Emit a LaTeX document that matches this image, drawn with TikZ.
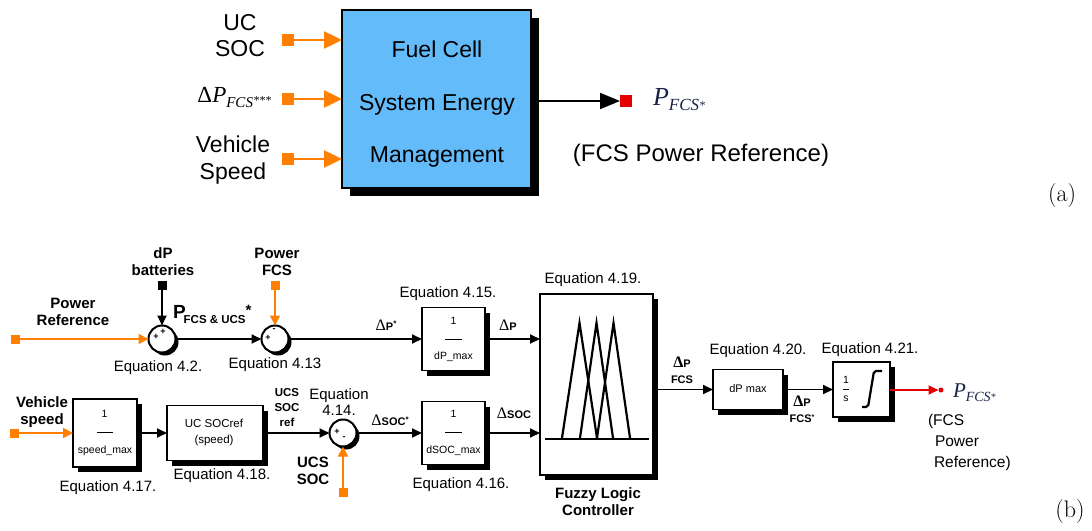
\documentclass[tikz,border=0pt]{standalone}
\usepackage{fontspec}
\newfontfamily\arial{Liberation Sans}
\newfontfamily\tnr{Liberation Serif}
\usetikzlibrary{arrows.meta,shadows}
\newcommand\myfs[2]{\fontsize{#1}{#2}\selectfont}
\newcommand\dl[1]{{\tnr\myfs{16}{16}Δ}{\arial\bfseries\myfs{11}{11}#1}}
\definecolor{ora}{RGB}{255,128,0}
\definecolor{sky}{RGB}{99,187,250}
\definecolor{navy}{RGB}{25,35,70}
\definecolor{redc}{RGB}{228,0,0}
\begin{document}
\begin{tikzpicture}[x=1pt,y=-1pt,
  every node/.style={inner sep=0pt,outer sep=0pt},
  txa/.style={font={\arial\myfs{23}{26}},align=center},
  eqn/.style={font={\arial\myfs{15}{16}},align=center},
  bl/.style={font={\arial\bfseries\myfs{15}{17}},align=center},
  sbl/.style={font={\arial\bfseries\myfs{11.5}{15}},align=center},
  smalltxt/.style={font={\arial\myfs{10.5}{16}},align=center},
  blk/.style={draw,line width=1.6pt,fill=white,drop shadow={shadow xshift=5pt,shadow yshift=-5pt,opacity=1,fill=black}},
  sumc/.style={circle,draw,line width=2pt,fill=white,minimum size=27pt,drop shadow={shadow xshift=3pt,shadow yshift=-3pt,opacity=1,fill=black}},
  osq/.style={fill=ora,minimum size=9pt},
  ksq/.style={fill=black,minimum size=9pt},
  karr/.style={line width=1.8pt,-{Triangle[length=10pt,width=9pt]}},
  oarr/.style={draw=ora,line width=1.8pt,-{Triangle[length=10pt,width=10pt]}},
  sgn/.style={font={\arial\bfseries\myfs{9}{9}}},
  mf/.style={line width=2.2pt},
]
\useasboundingbox (0,0) rectangle (1092,530);

% ---------------- (a) ----------------
\node[draw=black,line width=2pt,fill=sky,minimum width=189pt,minimum height=178pt,
  drop shadow={shadow xshift=8pt,shadow yshift=-8pt,opacity=1,fill=black}] (fcsem) at (436.5,99) {};
\node[txa,anchor=base] (fc1) at (437,57) {Fuel Cell};
\node[txa,anchor=base] (fc2) at (437,110) {System Energy};
\node[txa,anchor=base] (fc3) at (437,162) {Management};

\node[fill=ora,minimum size=12pt] (ia1) at (288,40) {};
\node[fill=ora,minimum size=12pt] (ia2) at (288,99) {};
\node[fill=ora,minimum size=12pt] (ia3) at (288,159) {};
\foreach \n in {ia1,ia2,ia3}
  \draw[draw=ora,line width=2.5pt,-{Triangle[length=18pt,width=17pt]}] (\n) -- (\n -| fcsem.west);

\node[txa] (lucs) at (240,36) {UC\\SOC};
\node[anchor=base east] (ldp) at (271,102) {{\tnr\myfs{23}{23}Δ\itshape P}\raisebox{-5pt}{\tnr\itshape\myfs{15}{15}FCS\raisebox{3pt}{\myfs{12}{12}***}}};
\node[txa,font={\arial\myfs{23}{27}}] (lvsp) at (233,160) {Vehicle\\Speed};

\node[fill=redc,minimum size=12pt] (oa) at (626,101) {};
\draw[line width=2pt,-{Triangle[length=20pt,width=16pt]}] (fcsem.east |- oa) -- (oa.west);
\node[anchor=base west,text=navy] (pfa) at (653,105) {\tnr\itshape\myfs{26}{26}P\raisebox{-5pt}{\myfs{17}{17}FCS\raisebox{1pt}{\myfs{12}{12}*}}};
\node[font={\arial\myfs{24}{26}}] (fpra) at (701,155) {(FCS Power Reference)};
\node[font=\myfs{24}{24}] (la) at (1062,196) {(a)};

% ---------------- (b) ----------------
% sums
\node[sumc] (s1) at (162,339) {};
\node[sumc] (s2) at (275,339) {};
\node[sumc] (s3) at (343,433) {};
\node[sgn] (s1a) at (156,337) {+};
\node[sgn] (s1b) at (163,332) {+};
\node[sgn] (s2a) at (268,338) {+};
\node[sgn] (s2b) at (274,330) {-};
\node[sgn] (s3a) at (337,432) {+};
\node[sgn] (s3b) at (344,438) {-};

% blocks
\node[blk,minimum width=63pt,minimum height=63pt] (dpm) at (453.5,339) {};
\node[smalltxt] (dpm1) at (453.5,321) {1};
\draw[line width=1pt] (445,339) -- (462,339);
\node[smalltxt] (dpm2t) at (453.5,357) {dP\_max};

\node[blk,minimum width=63pt,minimum height=63pt] (dsm) at (453.5,433) {};
\node[smalltxt] (dsm1) at (453.5,414) {1};
\draw[line width=1pt] (445,432) -- (462,432);
\node[smalltxt] (dsm2) at (453.5,451) {dSOC\_max};

\node[blk,minimum width=64pt,minimum height=68pt] (spm) at (105,433) {};
\node[smalltxt] (spm1) at (104.5,414) {1};
\draw[line width=1pt] (97,432) -- (113,432);
\node[smalltxt] (spm2) at (105,451) {speed\_max};

\node[blk,minimum width=96pt,minimum height=55pt] (socr) at (215,433) {};
\node[smalltxt,font={\arial\myfs{11.5}{16}}] (socrt) at (214,433) {UC SOCref\\(speed)};

\node[blk,minimum width=113pt,minimum height=181pt] (flc) at (596.5,384.5) {};
\draw[mf] (545,439) -- (649,439);
\draw[mf] (562,438) -- (579.5,323) -- (597,438);
\draw[mf] (580,438) -- (596.5,323) -- (613,438);
\draw[mf] (597,438) -- (613.5,323) -- (630,438);

\node[blk,minimum width=70pt,minimum height=40pt] (dpx) at (748,389.5) {};
\node[smalltxt,font={\arial\myfs{11}{12}}] (dpxt) at (748,389) {dP max};

\node[blk,minimum width=57pt,minimum height=55pt] (integ) at (861.5,389.5) {};
\node[smalltxt,font={\arial\myfs{10.5}{12}}] (int1) at (846,380) {1};
\draw[line width=1pt] (843,389) -- (849,389);
\node[smalltxt,font={\arial\myfs{10.5}{12}}] (int2) at (846,399) {s};
\draw[mf,rounded corners=2pt] (862,407) -- (868,407) -- (874,371) -- (882,371);

% sources
\node[osq] (qpr) at (15,339) {};
\node[ksq] (qdb) at (162,285) {};
\node[osq] (qpf) at (275,285) {};
\node[osq] (qvs) at (14,433) {};
\node[osq] (qus) at (343,492) {};

% connectors
\draw[oarr] (qpr) -- (s1.west);
\draw[karr] (qdb) -- (s1.north);
\draw[oarr] (qpf) -- (s2.north);
\draw[karr] (s1.east) -- (s2.west);
\draw[karr] (s2.east) -- (dpm.west);
\draw[karr] (dpm.east) -- (flc.west |- dpm.east);
\draw[oarr] (qvs) -- (spm.west);
\draw[karr] (spm.east) -- (socr.west);
\draw[karr] (socr.east) -- (s3.west);
\draw[oarr] (qus) -- (s3.south);
\draw[karr] (s3.east) -- (dsm.west);
\draw[karr] (dsm.east) -- (flc.west |- dsm.east);
\draw[karr] (flc.east |- dpx.west) -- (dpx.west);
\draw[karr] (dpx.east) -- (integ.west |- dpx.east);
\node[circle,fill=redc,minimum size=5pt] (rdot) at (941,390) {};
\draw[draw=redc,line width=1.8pt,-{Triangle[length=10pt,width=9pt]}] (integ.east |- rdot) -- (rdot.west);

% labels
\node[bl] (ldb) at (163,262) {dP\\batteries};
\node[bl] (lpf) at (277,262) {Power\\FCS};
\node[bl] (lpr) at (73,312) {Power\\Reference};
\node[bl] (lvs) at (42,412) {Vehicle\\speed};
\node[bl] (lus) at (313,471) {UCS\\SOC};
\node[sbl] (lusr) at (287,408) {UCS\\SOC\\ref};
\node[bl] (lflc) at (598,502) {Fuzzy Logic\\Controller};
\node[anchor=base west,font={\arial\bfseries}] (lpfu) at (173,318)
  {\myfs{19}{19}P\hspace{-2pt}\raisebox{-5pt}{\myfs{11.5}{12}FCS \& UCS}\raisebox{3pt}{\myfs{15}{15}*}};

\node[eqn] (e42) at (158,368) {Equation 4.2.};
\node[eqn] (e413) at (275,365) {Equation 4.13};
\node[eqn] (e415) at (448,294) {Equation 4.15.};
\node[eqn] (e414) at (339,402) {Equation\\4.14.};
\node[eqn] (e416) at (461,485) {Equation 4.16.};
\node[eqn] (e417) at (108,488) {Equation 4.17.};
\node[eqn] (e418) at (222,476) {Equation 4.18.};
\node[eqn] (e419) at (593,280) {Equation 4.19.};
\node[eqn] (e420) at (758,351) {Equation 4.20.};
\node[eqn] (e421) at (870,350) {Equation 4.21.};

\node (ldps) at (386,325) {\dl{P}\raisebox{4pt}{\arial\bfseries\myfs{8}{8}*}};
\node (ldp2) at (508,325) {\dl{P}};
\node (ldsocs) at (390,420) {\dl{SOC}\raisebox{3pt}{\arial\bfseries\myfs{8}{8}*}};
\node (ldsoc) at (514,413) {\dl{SOC}};
\node[align=center,font={\arial\bfseries\myfs{11}{16}}] (ldpf) at (682,370) {\dl{P}\\FCS};
\node[align=center,font={\arial\bfseries\myfs{11}{16}}] (ldpfs) at (802,409) {\dl{P}\\FCS\raisebox{3pt}{\myfs{7}{7}*}};

\node[anchor=base west,text=navy] (pfb) at (953,397) {\tnr\itshape\myfs{21}{21}P\raisebox{-4pt}{\myfs{14}{14}FCS\raisebox{1pt}{\myfs{10}{10}*}}};
\node[anchor=north west,align=left,font={\arial\myfs{15.5}{21}}] (fprb) at (928,414) {(FCS\\\hspace*{7pt}Power\\\hspace*{6pt}Reference)};
\node[font=\myfs{24}{24}] (lb) at (1070,512) {(b)};
\end{tikzpicture}
\end{document}
